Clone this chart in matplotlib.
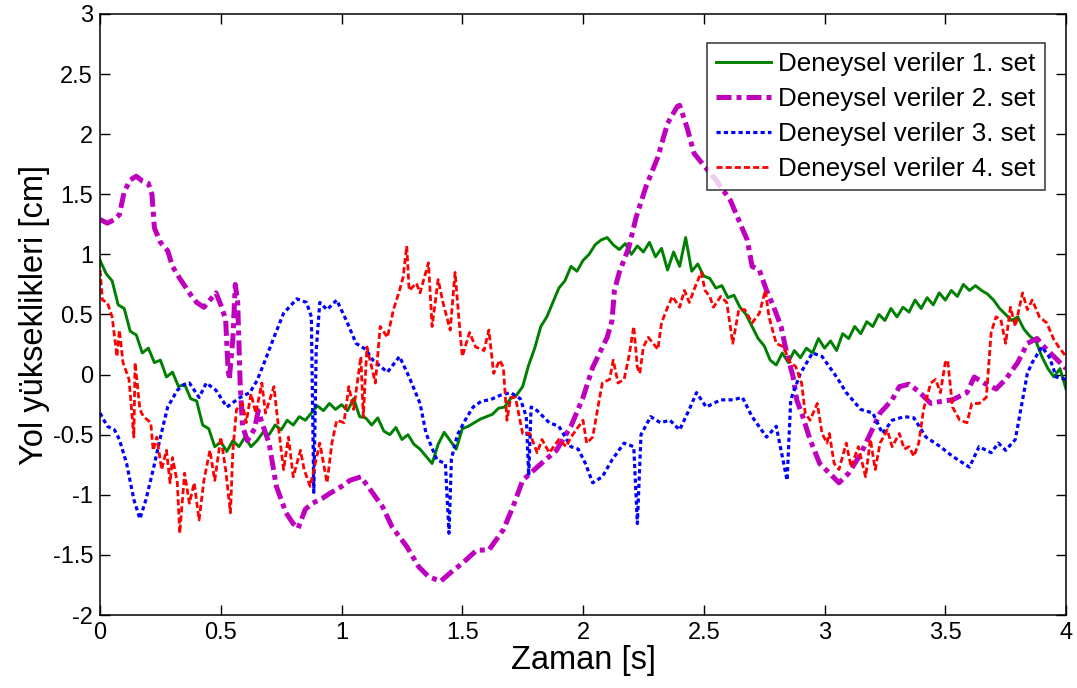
import numpy as np
import matplotlib
matplotlib.use('Agg')
from matplotlib import pyplot as plt

plt.rcParams['font.family'] = ['Liberation Sans', 'DejaVu Sans']
plt.rcParams['axes.unicode_minus'] = False

# set 1 (green)
t1 = [0.000, 0.025, 0.050, 0.075, 0.100, 0.125, 0.150, 0.175, 0.200, 0.225,
      0.250, 0.275, 0.300, 0.325, 0.350, 0.375, 0.400, 0.425, 0.450, 0.475,
      0.500, 0.525, 0.550, 0.575, 0.600, 0.625, 0.650, 0.675, 0.700, 0.725,
      0.750, 0.775, 0.800, 0.825, 0.850, 0.875, 0.900, 0.925, 0.950, 0.975,
      1.000, 1.025, 1.050, 1.075, 1.100, 1.125, 1.150, 1.175, 1.200, 1.225,
      1.250, 1.275, 1.300, 1.325, 1.350, 1.375, 1.400, 1.425, 1.450, 1.475,
      1.500, 1.525, 1.550, 1.575, 1.600, 1.625, 1.650, 1.675, 1.700, 1.725,
      1.750, 1.775, 1.800, 1.825, 1.850, 1.875, 1.900, 1.925, 1.950, 1.975,
      2.000, 2.025, 2.050, 2.075, 2.100, 2.125, 2.150, 2.175, 2.200, 2.225,
      2.250, 2.275, 2.300, 2.325, 2.350, 2.375, 2.400, 2.425, 2.450, 2.475,
      2.500, 2.525, 2.550, 2.575, 2.600, 2.625, 2.650, 2.675, 2.700, 2.725,
      2.750, 2.775, 2.800, 2.825, 2.850, 2.875, 2.900, 2.925, 2.950, 2.975,
      3.000, 3.025, 3.050, 3.075, 3.100, 3.125, 3.150, 3.175, 3.200, 3.225,
      3.250, 3.275, 3.300, 3.325, 3.350, 3.375, 3.400, 3.425, 3.450, 3.475,
      3.500, 3.525, 3.550, 3.575, 3.600, 3.625, 3.650, 3.675, 3.700, 3.725,
      3.750, 3.775, 3.800, 3.825, 3.850, 3.875, 3.900, 3.925, 3.950, 3.975,
      4.000]
y1 = [0.95, 0.84, 0.78, 0.58, 0.55, 0.36, 0.33, 0.18, 0.22, 0.10,
      0.12, -0.02, 0.02, -0.10, -0.08, -0.20, -0.22, -0.42, -0.45, -0.60,
      -0.56, -0.64, -0.55, -0.60, -0.52, -0.60, -0.55, -0.48, -0.50, -0.42,
      -0.46, -0.38, -0.42, -0.35, -0.38, -0.32, -0.26, -0.30, -0.24, -0.29,
      -0.25, -0.30, -0.20, -0.35, -0.36, -0.42, -0.36, -0.47, -0.50, -0.44,
      -0.54, -0.50, -0.58, -0.62, -0.68, -0.74, -0.58, -0.48, -0.55, -0.62,
      -0.45, -0.43, -0.40, -0.37, -0.35, -0.33, -0.28, -0.27, -0.20, -0.17,
      -0.10, 0.08, 0.22, 0.40, 0.48, 0.60, 0.72, 0.78, 0.90, 0.86,
      0.95, 1.00, 1.08, 1.12, 1.14, 1.08, 1.04, 1.09, 1.00, 1.07,
      1.02, 1.10, 0.98, 1.05, 0.87, 1.02, 0.90, 1.14, 0.86, 0.92,
      0.82, 0.80, 0.72, 0.74, 0.64, 0.66, 0.56, 0.50, 0.40, 0.30,
      0.24, 0.12, 0.08, 0.18, 0.10, 0.20, 0.14, 0.22, 0.18, 0.30,
      0.22, 0.28, 0.20, 0.34, 0.30, 0.40, 0.34, 0.44, 0.40, 0.50,
      0.45, 0.55, 0.48, 0.56, 0.52, 0.62, 0.55, 0.64, 0.58, 0.68,
      0.62, 0.70, 0.65, 0.75, 0.70, 0.74, 0.70, 0.67, 0.62, 0.55,
      0.50, 0.45, 0.48, 0.38, 0.32, 0.28, 0.15, 0.05, -0.02, 0.05,
      -0.12]

# set 2 (magenta)
t2 = [0.00, 0.03, 0.06, 0.08, 0.10, 0.125, 0.15, 0.175, 0.20, 0.215,
      0.225, 0.25, 0.28, 0.30, 0.33, 0.35, 0.38, 0.40, 0.43, 0.455,
      0.48, 0.50, 0.52, 0.53, 0.535, 0.55, 0.56, 0.57, 0.58, 0.59,
      0.61, 0.64, 0.655, 0.67, 0.70, 0.73, 0.77, 0.80, 0.82, 0.85,
      0.88, 0.92, 0.95, 1.00, 1.035, 1.08, 1.12, 1.17, 1.21, 1.27,
      1.32, 1.36, 1.41, 1.45, 1.50, 1.56, 1.61, 1.67, 1.71, 1.75,
      1.81, 1.89, 1.95, 2.00, 2.04, 2.10, 2.12, 2.13, 2.15, 2.19,
      2.22, 2.26, 2.31, 2.35, 2.39, 2.40, 2.43, 2.46, 2.50, 2.55,
      2.61, 2.65, 2.68, 2.70, 2.73, 2.76, 2.79, 2.82, 2.84, 2.87,
      2.885, 2.91, 2.94, 2.98, 3.02, 3.06, 3.10, 3.15, 3.19, 3.23,
      3.28, 3.31, 3.35, 3.39, 3.44, 3.49, 3.53, 3.59, 3.62, 3.66,
      3.71, 3.75, 3.80, 3.84, 3.88, 3.91, 3.95, 4.00]
y2 = [1.29, 1.26, 1.29, 1.33, 1.52, 1.62, 1.65, 1.61, 1.59, 1.50,
      1.22, 1.10, 1.03, 0.90, 0.80, 0.74, 0.65, 0.60, 0.56, 0.62,
      0.68, 0.58, 0.46, 0.05, -0.04, 0.30, 0.75, 0.60, -0.07, -0.43,
      -0.55, -0.45, -0.30, -0.40, -0.57, -0.93, -1.15, -1.24, -1.28, -1.12,
      -1.07, -1.03, -0.99, -0.93, -0.88, -0.85, -0.96, -1.10, -1.27, -1.43,
      -1.60, -1.68, -1.72, -1.65, -1.57, -1.46, -1.46, -1.29, -1.10, -0.88,
      -0.77, -0.63, -0.43, -0.19, 0.06, 0.31, 0.45, 0.70, 0.85, 1.06,
      1.31, 1.56, 1.81, 2.09, 2.23, 2.24, 2.06, 1.84, 1.74, 1.62,
      1.45, 1.26, 1.12, 0.90, 0.87, 0.70, 0.56, 0.40, 0.21, -0.02,
      -0.21, -0.35, -0.54, -0.74, -0.82, -0.90, -0.82, -0.66, -0.49, -0.32,
      -0.21, -0.10, -0.08, -0.14, -0.24, -0.22, -0.21, -0.15, -0.02, -0.07,
      -0.12, -0.04, 0.10, 0.26, 0.30, 0.23, 0.15, 0.05]

# set 3 (blue)
t3 = [0.00, 0.03, 0.06, 0.08, 0.11, 0.14, 0.165, 0.19, 0.22, 0.25,
      0.28, 0.32, 0.35, 0.37, 0.41, 0.44, 0.48, 0.525, 0.58, 0.62,
      0.65, 0.68, 0.72, 0.76, 0.815, 0.855, 0.875, 0.885, 0.895, 0.91,
      0.94, 0.98, 1.02, 1.06, 1.10, 1.13, 1.19, 1.24, 1.28, 1.325,
      1.35, 1.395, 1.43, 1.445, 1.455, 1.48, 1.52, 1.545, 1.58, 1.615,
      1.66, 1.70, 1.74, 1.765, 1.775, 1.785, 1.81, 1.86, 1.90, 1.95,
      1.98, 2.01, 2.04, 2.08, 2.12, 2.17, 2.21, 2.225, 2.24, 2.28,
      2.32, 2.36, 2.40, 2.44, 2.47, 2.51, 2.57, 2.62, 2.66, 2.70,
      2.76, 2.80, 2.845, 2.86, 2.90, 2.95, 2.99, 3.05, 3.09, 3.15,
      3.20, 3.24, 3.28, 3.33, 3.37, 3.42, 3.48, 3.53, 3.60, 3.64,
      3.69, 3.72, 3.75, 3.79, 3.82, 3.84, 3.86, 3.90, 3.93, 3.96,
      4.00]
y3 = [-0.32, -0.43, -0.46, -0.54, -0.74, -1.04, -1.20, -1.04, -0.79, -0.52,
      -0.27, -0.13, -0.08, -0.07, -0.19, -0.07, -0.13, -0.27, -0.19, -0.15,
      -0.05, 0.10, 0.31, 0.51, 0.63, 0.60, 0.48, -0.98, 0.20, 0.60,
      0.54, 0.62, 0.45, 0.26, 0.21, 0.12, 0.02, 0.15, -0.02, -0.24,
      -0.49, -0.71, -0.74, -1.32, -0.70, -0.50, -0.35, -0.27, -0.22, -0.21,
      -0.17, -0.15, -0.20, -0.35, -0.84, -0.27, -0.30, -0.40, -0.43, -0.60,
      -0.62, -0.74, -0.90, -0.85, -0.71, -0.57, -0.60, -1.24, -0.50, -0.35,
      -0.40, -0.38, -0.46, -0.29, -0.15, -0.27, -0.21, -0.21, -0.19, -0.35,
      -0.52, -0.43, -0.88, -0.21, 0.01, 0.18, 0.15, -0.02, -0.15, -0.29,
      -0.32, -0.49, -0.38, -0.35, -0.36, -0.52, -0.60, -0.68, -0.77, -0.60,
      -0.65, -0.57, -0.63, -0.54, -0.21, 0.01, 0.10, 0.23, 0.15, -0.02,
      -0.04]

# set 4 (red)
t4 = [0.00, 0.01, 0.03, 0.05, 0.07, 0.08, 0.095, 0.12, 0.14, 0.145,
      0.165, 0.18, 0.21, 0.22, 0.235, 0.255, 0.275, 0.29, 0.30, 0.32,
      0.33, 0.35, 0.37, 0.39, 0.41, 0.43, 0.455, 0.475, 0.50, 0.52,
      0.54, 0.55, 0.565, 0.59, 0.605, 0.625, 0.645, 0.67, 0.685, 0.72,
      0.74, 0.76, 0.78, 0.80, 0.83, 0.845, 0.87, 0.91, 0.94, 0.96,
      0.98, 1.01, 1.03, 1.05, 1.08, 1.09, 1.105, 1.14, 1.16, 1.19,
      1.215, 1.24, 1.255, 1.27, 1.28, 1.31, 1.325, 1.36, 1.375, 1.40,
      1.42, 1.45, 1.47, 1.49, 1.50, 1.53, 1.555, 1.59, 1.61, 1.63,
      1.655, 1.67, 1.685, 1.70, 1.72, 1.75, 1.78, 1.81, 1.83, 1.86,
      1.90, 1.93, 1.95, 2.00, 2.015, 2.04, 2.06, 2.08, 2.11, 2.125,
      2.145, 2.17, 2.19, 2.21, 2.225, 2.235, 2.25, 2.27, 2.29, 2.31,
      2.325, 2.35, 2.37, 2.40, 2.42, 2.44, 2.47, 2.49, 2.505, 2.525,
      2.54, 2.57, 2.595, 2.62, 2.645, 2.67, 2.70, 2.73, 2.755, 2.77,
      2.80, 2.83, 2.86, 2.88, 2.905, 2.92, 2.94, 2.97, 2.99, 3.01,
      3.02, 3.04, 3.06, 3.09, 3.11, 3.14, 3.17, 3.19, 3.21, 3.23,
      3.26, 3.28, 3.31, 3.33, 3.35, 3.37, 3.39, 3.41, 3.44, 3.46,
      3.48, 3.50, 3.51, 3.53, 3.56, 3.59, 3.61, 3.64, 3.67, 3.69,
      3.71, 3.73, 3.75, 3.77, 3.79, 3.82, 3.84, 3.86, 3.89, 3.92,
      3.95, 3.97, 4.00]
y4 = [0.87, 0.62, 0.60, 0.48, 0.15, 0.37, 0.10, -0.04, -0.52, 0.10,
      -0.29, -0.35, -0.40, -0.63, -0.52, -0.79, -0.63, -0.90, -0.69, -0.90,
      -1.32, -0.82, -1.07, -0.90, -1.21, -0.88, -0.63, -0.88, -0.52, -0.79,
      -1.15, -0.63, -0.29, -0.24, -0.40, -0.16, -0.32, -0.07, -0.32, -0.10,
      -0.46, -0.79, -0.52, -0.85, -0.63, -0.79, -0.93, -0.57, -0.90, -0.57,
      -0.38, -0.40, -0.10, -0.29, 0.15, -0.35, 0.23, -0.07, 0.40, 0.31,
      0.54, 0.70, 0.81, 1.07, 0.70, 0.76, 0.68, 0.93, 0.40, 0.79,
      0.60, 0.37, 0.85, 0.37, 0.15, 0.35, 0.23, 0.20, 0.37, 0.01,
      0.12, 0.06, -0.38, -0.19, -0.19, -0.49, -0.49, -0.65, -0.54, -0.65,
      -0.54, -0.60, -0.52, -0.38, -0.57, -0.52, -0.29, -0.07, -0.04, 0.12,
      -0.07, -0.04, 0.15, 0.40, 0.06, 0.01, 0.23, 0.31, 0.26, 0.21,
      0.43, 0.56, 0.65, 0.56, 0.70, 0.60, 0.76, 0.85, 0.70, 0.65,
      0.56, 0.65, 0.60, 0.26, 0.54, 0.54, 0.43, 0.51, 0.70, 0.48,
      0.26, 0.23, 0.09, 0.07, -0.07, -0.32, -0.38, -0.24, -0.49, -0.57,
      -0.49, -0.74, -0.79, -0.57, -0.77, -0.60, -0.85, -0.54, -0.79, -0.57,
      -0.46, -0.60, -0.49, -0.62, -0.60, -0.68, -0.57, -0.29, -0.07, -0.04,
      -0.15, 0.10, 0.12, -0.27, -0.38, -0.40, -0.24, -0.24, -0.19, 0.35,
      0.48, 0.46, 0.26, 0.56, 0.40, 0.68, 0.54, 0.62, 0.48, 0.43,
      0.29, 0.23, 0.15]

labels = ['Deneysel veriler 1. set', 'Deneysel veriler 2. set',
          'Deneysel veriler 3. set', 'Deneysel veriler 4. set']
xticks = np.arange(0, 4.01, 0.5)
yticks = np.arange(-2, 3.01, 0.5)


def tick_text(v):
    return f'{v:g}'


fig = plt.figure(figsize=(10.77, 6.88), dpi=100)
ax = fig.add_axes([0.0929, 0.1061, 0.8969, 0.8736])

ax.plot(t1, y1, '-', color='#008000', lw=2.1, label=labels[0])
ax.plot(t2, y2, color='#BF00BF', lw=3.6, dashes=(3.0, 1.0, 1.0, 1.0), label=labels[1])
ax.plot(t3, y3, color='#0000FF', lw=2.3, dashes=(1.3, 1.0), label=labels[2])
ax.plot(t4, y4, color='#FF0000', lw=2.0, dashes=(2.2, 1.1), label=labels[3])

ax.set_xlim(0, 4)
ax.set_ylim(-2, 3)
ax.set_xticks(xticks)
ax.set_yticks(yticks)
ax.set_xticklabels([tick_text(v) for v in xticks])
ax.set_yticklabels([tick_text(v) for v in yticks])
ax.tick_params(direction='in', length=7, width=1.0, top=True, right=True,
               labelsize=17, pad=5)
for s in ax.spines.values():
    s.set_linewidth(1.1)

ax.set_xlabel('Zaman [s]', fontsize=23.5, labelpad=1)
ax.set_ylabel('Yol yükseklikleri [cm]', fontsize=23.5, labelpad=2)

leg = ax.legend(loc='upper right', bbox_to_anchor=(0.978, 0.952), borderaxespad=0,
                fontsize=18.7, frameon=True, fancybox=False, edgecolor='black',
                handlelength=2.1, handletextpad=0.3, labelspacing=0.42,
                borderpad=0.35)
leg.get_frame().set_linewidth(1.1)

fig.savefig('out.png', dpi=100)
